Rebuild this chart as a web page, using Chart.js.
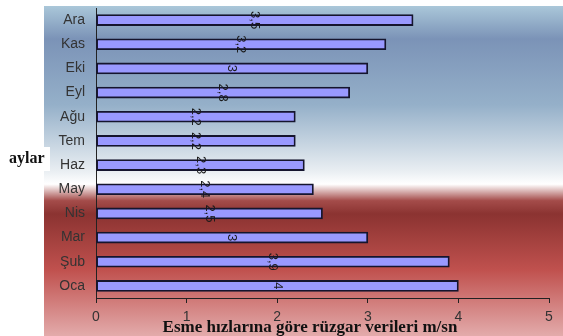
<!DOCTYPE html>
<html>
<head>
<meta charset="utf-8">
<script src="https://cdn.jsdelivr.net/npm/chart.js@4"></script>
<style>
  html, body { margin: 0; padding: 0; background: #fff; }
  #wrap { width: 563px; height: 336px; }
</style>
</head>
<body>
<div id="wrap"><canvas id="mychart" width="563" height="336"></canvas></div>
<script>
// aylar (yukaridan asagi)
var months = ['Ara', 'Kas', 'Eki', 'Eyl', 'Ağu', 'Tem', 'Haz', 'May', 'Nis', 'Mar', 'Şub', 'Oca'];
var speeds = [3.5, 3.2, 3, 2.8, 2.2, 2.2, 2.3, 2.4, 2.5, 3, 3.9, 4];
var xTicks = [0, 1, 2, 3, 4, 5];
var xTitle = 'Esme hızlarına göre rüzgar verileri m/sn';
var yTitle = 'aylar';

// arka plan + eksen basliklari
var decor = {
  id: 'decor',
  beforeDraw: function(chart) {
    var c = chart.ctx;
    var g = c.createLinearGradient(0, 6, 0, 336);
    g.addColorStop(0, '#aac7d9');
    g.addColorStop(0.1, '#7b93b7');
    g.addColorStop(0.3, '#95b0c9');
    g.addColorStop(0.5, '#e9eef2');
    g.addColorStop(0.54, '#ffffff');
    g.addColorStop(0.59, '#a44c4a');
    g.addColorStop(0.63, '#8b3331');
    g.addColorStop(0.8, '#c0514e');
    g.addColorStop(1, '#e3abab');
    c.save();
    c.fillStyle = g;
    c.fillRect(44, 6, 519, 330);
    c.restore();
  },
  afterDraw: function(chart) {
    var c = chart.ctx;
    c.save();
    c.fillStyle = '#fff';
    c.fillRect(0, 147, 50, 24);
    c.fillStyle = '#111';
    c.font = 'bold 16px "Liberation Serif"';
    c.textAlign = 'left';
    c.textBaseline = 'middle';
    c.fillText(yTitle, 9, 159);
    c.font = 'bold 17px "Liberation Serif"';
    c.textAlign = 'center';
    c.fillText(xTitle, 310, 328);
    c.restore();
  }
};

// cubuk ortasinda dik yazilar
var barLabels = {
  id: 'barLabels',
  afterDatasetsDraw: function(chart) {
    var c = chart.ctx;
    var meta = chart.getDatasetMeta(0);
    var xs = chart.scales.x;
    c.save();
    c.fillStyle = '#1a1a1a';
    c.font = '13px "Liberation Sans"';
    c.textAlign = 'center';
    c.textBaseline = 'middle';
    meta.data.forEach(function(bar, i) {
      var v = speeds[i];
      var x = xs.getPixelForValue(v / 2);
      c.save();
      c.translate(x, bar.y);
      c.rotate(Math.PI / 2);
      c.fillText(String(v).replace('.', ','), 0, 0);
      c.restore();
    });
    c.restore();
  }
};

var ctx = document.getElementById('mychart');
var myChart = new Chart(ctx, {
  type: 'bar',
  data: {
    labels: months,
    datasets: [{
      data: speeds,
      backgroundColor: '#9999ff',
      borderColor: '#15152e',
      borderWidth: 1.8,
      borderSkipped: false,
      barThickness: 11
    }]
  },
  options: {
    indexAxis: 'y',
    responsive: false,
    animation: false,
    layout: { padding: { left: 0, right: 14, top: 8, bottom: 0 } },
    plugins: { legend: { display: false }, tooltip: { enabled: false } },
    scales: {
      x: {
        min: 0,
        max: 5,
        afterFit: function(s) { s.height = 38; },
        afterBuildTicks: function(s) { s.ticks = xTicks.map(function(v) { return { value: v }; }); },
        grid: { drawOnChartArea: false, tickLength: 5, color: '#222' },
        border: { color: '#222', width: 1 },
        ticks: { color: '#333', padding: 6, font: { family: 'Liberation Sans', size: 14 } }
      },
      y: {
        afterFit: function(s) { s.width = 96; s.paddingTop = 0; s.paddingBottom = 0; },
        grid: { drawOnChartArea: false, drawTicks: false },
        border: { color: '#222', width: 1 },
        ticks: { color: '#333', padding: 11, font: { family: 'Liberation Sans', size: 14 } }
      }
    }
  },
  plugins: [decor, barLabels]
});
</script>
</body>
</html>
